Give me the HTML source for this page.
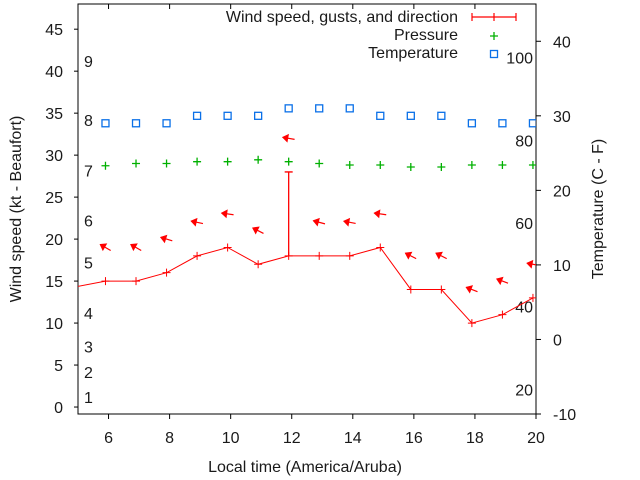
<!DOCTYPE html>
<html><head><meta charset="utf-8"><style>
html,body{margin:0;padding:0;background:#fff;}
svg{display:block;font-family:"Liberation Sans",sans-serif;}
</style></head><body>
<svg id="chart" width="640" height="480" viewBox="0 0 640 480" xmlns="http://www.w3.org/2000/svg"></svg>
<script>
const hours = [5.9,6.9,7.9,8.9,9.9,10.9,11.9,12.9,13.9,14.9,15.9,16.9,17.9,18.9,19.9];
const windSpeed = [15,15,16,18,19,17,18,18,18,19,14,14,10,11,13];
const windGust = [null,null,null,null,null,null,28,null,null,null,null,null,null,null,null];
const windDir = [120,120,107,102,98,117,100,105,101,98,117,117,111,111,101];
const pressure = [23.3,23.6,23.6,23.85,23.85,24.1,23.85,23.6,23.4,23.4,23.13,23.13,23.4,23.4,23.4];
const temperature = [29,29,29,30,30,30,31,31,31,30,30,30,29,29,29];
const prevHour = 4.9, prevSpeed = 14.3;
const xTicks = [6,8,10,12,14,16,18,20];
const yTicks = [0,5,10,15,20,25,30,35,40,45];
const y2Ticks = [-10,0,10,20,30,40];
const beaufortLabels = ["1","2","3","4","5","6","7","8","9"];
const beaufortKt = [1.2,4.2,7.2,11.2,17.2,22.2,28.2,34.2,41.2];
const fahrenheitLabels = ["100","80","60","40","20"];
const fahrenheitC = [37.8,26.7,15.6,4.4,-6.7];

const L=78,R=536,T=4,B=414;
const X = v => L + (v-5)/(20-5)*(R-L);
const Y = v => B - (v-(-0.83))/(48-(-0.83))*(B-T);
const Y2 = v => B - (v-(-10))/(45-(-10))*(B-T);
const svg=document.getElementById('chart');
const NS="http://www.w3.org/2000/svg";
function mk(tag,attrs,parent){const e=document.createElementNS(NS,tag);for(const k in attrs)e.setAttribute(k,attrs[k]);(parent||svg).appendChild(e);return e;}
function txt(s,x,y,anchor,parent){const t=mk('text',{x:x,y:y,'text-anchor':anchor,'font-size':16,fill:'#1a1a1a'},parent);t.textContent=s;return t;}

const clip=mk('clipPath',{id:'pc'});mk('rect',{x:L,y:T,width:R-L,height:B-T},clip);

const frame=mk('rect',{x:L,y:T,width:R-L,height:B-T,fill:'none',stroke:'#000','stroke-width':1});



xTicks.forEach(v=>{
  mk('line',{x1:X(v),x2:X(v),y1:B,y2:B+5,stroke:'#000'});
  mk('line',{x1:X(v),x2:X(v),y1:T,y2:T+5,stroke:'#000'});
  const t=txt(String(v),X(v),443,'middle');
  
  
});
yTicks.forEach(v=>{
  mk('line',{x1:L-4,x2:L,y1:Y(v),y2:Y(v),stroke:'#000'});
  const t=txt(String(v),63,Y(v)+6,'end');
  
  
});
y2Ticks.forEach(v=>{
  mk('line',{x1:R,x2:R+5,y1:Y2(v),y2:Y2(v),stroke:'#000'});
  const t=txt(String(v),553,Y2(v)+6,'start');
  
  
});
beaufortLabels.forEach((s,i)=>{
  const t=txt(s,84,Y(beaufortKt[i])+6,'start');
  
  
});
fahrenheitLabels.forEach((s,i)=>{
  const t=txt(s,533,Y2(fahrenheitC[i])+6,'end');
  
  
});

let a=txt('Wind speed (kt - Beaufort)',0,0,'middle');a.setAttribute('transform','translate(21,209) rotate(-90)');

a=txt('Temperature (C - F)',0,0,'middle');a.setAttribute('transform','translate(603,209) rotate(-90)');

a=txt('Local time (America/Aruba)',305,472,'middle');


const g=mk('g',{'clip-path':'url(#pc)'});
let pts=[[X(prevHour),Y(prevSpeed)]].concat(hours.map((h,i)=>[X(h),Y(windSpeed[i])]));
const wl=mk('polyline',{points:pts.map(p=>p.join(',')).join(' '),fill:'none',stroke:'#f00','stroke-width':1},g);


hours.forEach((h,i)=>{
  const x=X(h),y=Y(windSpeed[i]);
  mk('path',{d:`M${x-4},${y}H${x+4}M${x},${y-4}V${y+4}`,stroke:'#f00'},g);
  if(windGust[i]!=null){
    const gy=Y(windGust[i]);
    const gb=mk('path',{d:`M${x},${y}V${gy}M${x-4},${gy}H${x+4}`,stroke:'#f00','stroke-width':1.3},g);
    
    
  }
  const top=(windGust[i]!=null?windGust[i]:windSpeed[i])+4;
  const cy=Y(top), ang=(windDir[i]-90)*Math.PI/180;
  const dx=Math.cos(ang)*6, dy=Math.sin(ang)*6;
  const hx=x-dx, hy=cy-dy, tx=x+dx, ty=cy+dy;
  const ux=-dx/6, uy=-dy/6;
  const ar=mk('g',{},g);
  
  
  mk('line',{x1:hx,y1:hy,x2:tx,y2:ty,stroke:'#f00','stroke-width':1.2},ar);
  const bx=hx-ux*5, by=hy-uy*5;
  mk('polygon',{points:`${hx},${hy} ${bx-uy*3.5},${by+ux*3.5} ${bx+uy*3.5},${by-ux*3.5}`,fill:'#f00',stroke:'#f00','stroke-width':1},ar);
  const py=Y2(pressure[i]);
  const pm=mk('path',{d:`M${x-4},${py}H${x+4}M${x},${py-4}V${py+4}`,stroke:'#00b000','stroke-width':1.3},g);
  
  
  const ty2=Y2(temperature[i]);
  const sq=mk('rect',{x:x-3.5,y:ty2-3.5,width:7,height:7,fill:'none',stroke:'#0a70e8','stroke-width':1.3},g);
  
  
});

const lg=mk('g',{});


txt('Wind speed, gusts, and direction',458,22,'end',lg);
mk('path',{d:'M472,17H516M472,13V21M516,13V21M494,13V21',stroke:'#f00','stroke-width':1.2},lg);
txt('Pressure',458,40,'end',lg);
mk('path',{d:'M490,36H498M494,32V40',stroke:'#00b000','stroke-width':1.3},lg);
txt('Temperature',458,58,'end',lg);
mk('rect',{x:490.5,y:50.5,width:7,height:7,fill:'none',stroke:'#0a70e8','stroke-width':1.3},lg);
</script>
</body></html>
